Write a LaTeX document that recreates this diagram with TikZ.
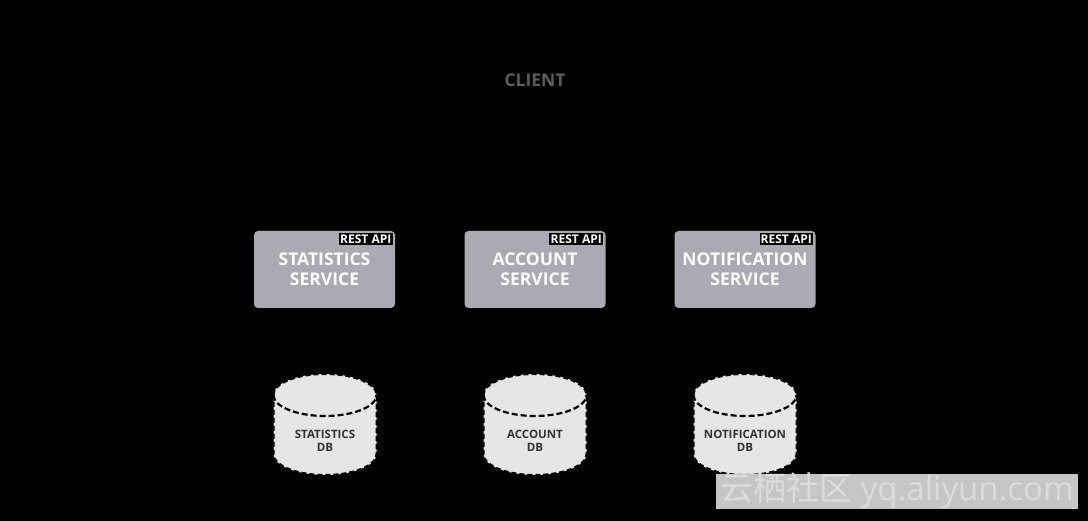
\documentclass[tikz,border=0pt]{standalone}
\usepackage{fontspec}
\setmainfont{Open Sans}
\newfontfamily\cjk{Noto Sans CJK SC}
\definecolor{svcfill}{HTML}{A9AAB2}
\definecolor{dbfill}{HTML}{E6E6E6}
\definecolor{dbtext}{HTML}{333333}
\definecolor{wmfill}{HTML}{C6C6C6}
\definecolor{wmtext}{HTML}{DCDCDC}
\definecolor{clienttext}{HTML}{5E5E5E}
\tikzset{
  svc/.style={fill=svcfill, rounded corners=4pt, minimum width=141pt, minimum height=77pt, inner sep=0pt},
  svctext/.style={text=white, font=\bfseries\fontsize{17.5}{20}\selectfont, align=center},
  rest/.style={fill=black, text=white, font=\bfseries\fontsize{12}{12}\selectfont, inner xsep=1.2pt, inner ysep=1.6pt, anchor=north east},
  dbshape/.style={fill=dbfill, draw=black, line width=2pt, dash pattern=on 5pt off 3pt},
  dbinner/.style={draw=black, line width=2.2pt, dash pattern=on 6pt off 3pt},
  dbtxt/.style={text=dbtext, font=\bfseries\fontsize{11.5}{13}\selectfont, align=center},
}
\newcommand\dbcyl[2]{%
  \path[dbshape] (#1-51.5,126) arc[start angle=180,end angle=0,x radius=51.5,y radius=21]
     -- (#1+51.5,67) arc[start angle=0,end angle=-180,x radius=51.5,y radius=21] -- cycle;
  \path[dbinner] (#1-51.5,126) arc[start angle=180,end angle=360,x radius=51.5,y radius=21];
}
\begin{document}
\begin{tikzpicture}[x=1pt,y=1pt]
\fill[black] (0,0) rectangle (1088,521);
\useasboundingbox (0,0) rectangle (1088,521);

\node[text=clienttext, font=\bfseries\fontsize{17.5}{20}\selectfont] (client) at (535,441) {CLIENT};

\node[svc] (statsvc) at (324.5,251.5) {};
\node[svc] (accsvc) at (535,251.5) {};
\node[svc] (notsvc) at (745,251.5) {};
\node[svctext] (statsvct) at (324.5,251.5) {STATISTICS\\SERVICE};
\node[svctext] (accsvct) at (535,251.5) {ACCOUNT\\SERVICE};
\node[svctext] (notsvct) at (745,251.5) {NOTIFICATION\\SERVICE};
\node[rest] (rest1) at ([xshift=-2.5pt,yshift=-2pt]statsvc.north east) {REST API};
\node[rest] (rest2) at ([xshift=-2.5pt,yshift=-2pt]accsvc.north east) {REST API};
\node[rest] (rest3) at ([xshift=-2.5pt,yshift=-2pt]notsvc.north east) {REST API};

\dbcyl{325}{statdb}
\dbcyl{535}{accdb}
\dbcyl{745}{notdb}
\node[dbtxt] (statdb) at (325,80.5) {STATISTICS\\DB};
\node[dbtxt] (accdb) at (535,80.5) {ACCOUNT\\DB};
\node[dbtxt] (notdb) at (745,80.5) {NOTIFICATION\\DB};

\fill[wmfill] (716,12) rectangle (1078,47);
\node[text=wmtext, font=\fontsize{33}{34}\selectfont, inner sep=0pt] (wm) at (897,30) {{\cjk 云栖社区} yq.aliyun.com};
\end{tikzpicture}
\end{document}
